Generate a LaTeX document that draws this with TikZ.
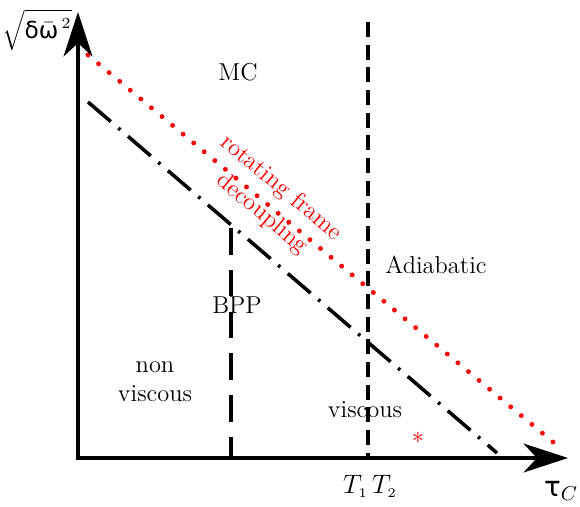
\documentclass[tikz,border=0pt]{standalone}
\usepackage{fontspec}
\newfontfamily\dejavu{DejaVu Sans}
\usetikzlibrary{arrows.meta}
\tikzset{
  axis/.style={line width=1.4pt,-{Stealth[length=20pt,width=13pt,inset=6pt]}},
  reddots/.style={red,line width=2.2pt,line cap=round,dash pattern=on 0pt off 6.187pt},
  dashdot/.style={line width=1.6pt,dash pattern=on 13.5pt off 4.5pt on 1.2pt off 4.5pt},
  tdash/.style={line width=1.5pt,dash pattern=on 6.8pt off 3.4pt},
  bppdash/.style={line width=1.4pt,dash pattern=on 12pt off 6.8pt},
  lbl/.style={font=\fontsize{11}{13}\selectfont,inner sep=0pt},
  redlbl/.style={lbl,text=red,rotate=-39.8}
}
\begin{document}
\begin{tikzpicture}[x=0.45pt,y=-0.45pt]
\useasboundingbox (0,0) rectangle (580,506);
\coordinate (O) at (78,458);
\coordinate (ytip) at (78,12);
\coordinate (xtip) at (568,458);
\coordinate (r1) at (88,55);
\coordinate (r2) at (553,442);
\coordinate (d1) at (88,102);
\coordinate (d2) at (497,453);
\coordinate (t1) at (368,22);
\coordinate (t2) at (368,458);
\coordinate (b1) at (231,228);
\coordinate (b2) at (231,458);
\draw[reddots] (r1) -- (r2);
\draw[dashdot] (d1) -- (d2);
\draw[tdash] (t1) -- (t2);
\draw[bppdash] (b1) -- (b2);
\draw[axis] (O) -- (ytip);
\draw[axis] ([xshift=-1pt]O) -- (xtip);
\node[lbl,font=\fontsize{10.5}{12}\selectfont] (ylab) at (37,30) {$\sqrt{\hbox{\dejavu δ}\bar{\hbox{\dejavu ω}}^{\,2}\vphantom{\big|}}$};
\node[lbl,font=\fontsize{12.5}{14}\selectfont] (xlab) at (561,491) {\hbox{\dejavu τ}$_{C}$};
\node[lbl,font=\fontsize{12}{14}\selectfont] (tlab) at (370,486) {$T_{\scriptscriptstyle 1}\,T_{\scriptscriptstyle 2}$};
\node[lbl] (mc) at (238,72) {MC};
\node[redlbl] (rot) at (281,188) {rotating frame};
\node[redlbl] (dec) at (262,214) {decoupling};
\node[lbl] (adia) at (436,265) {Adiabatic};
\node[lbl] (bpp) at (237,305) {BPP};
\node[lbl,align=center] (nonv) at (155,382) {non\\viscous};
\node[lbl] (visc) at (365,410) {viscous};
\node[lbl,text=red] (star) at (418,438) {$*$};
\end{tikzpicture}
\end{document}
